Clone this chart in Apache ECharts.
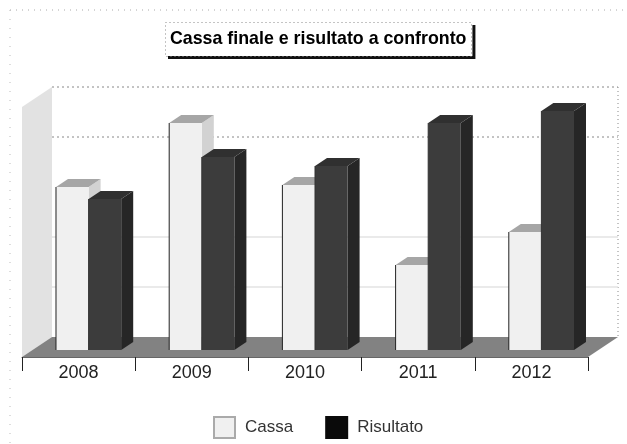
<!DOCTYPE html>
<html>
<head>
<meta charset="utf-8">
<style>
html, body { margin: 0; padding: 0; background: #fff; }
#chart { width: 627px; height: 444px; }
</style>
</head>
<body>
<div id="chart"></div>
<script src="https://cdn.jsdelivr.net/npm/echarts@6/dist/echarts.min.js"></script>
<script>
const years = ['2008', '2009', '2010', '2011', '2012']
const cassa = [163, 227, 165, 85, 118]
const risultato = [151, 193, 184, 227, 239]
const solidTicks = [50, 100]
const dottedTicks = [200, 250]

// finta prospettiva: spostamento in pixel del fondo e delle barre
const backX = 30
const backY = -20
const barX = 10
const barY = -7
const depthX = 12
const depthY = -8
const barShare = 0.288

function poly (points, fill) {
  return {
    type: 'polygon',
    shape: { points: points },
    style: { fill: fill, lineWidth: 0 }
  }
}

function renderBar (colors, side) {
  return function (params, api) {
    const top = api.coord([api.value(0), api.value(1)])
    const base = api.coord([api.value(0), 0])
    const w = api.size([1, 0])[0] * barShare
    const x0 = top[0] + barX + (side < 0 ? -w : 0)
    const x1 = x0 + w
    const y0 = top[1] + barY
    const y1 = base[1] + barY
    return {
      type: 'group',
      children: [
        poly([[x1, y0], [x1 + depthX, y0 + depthY], [x1 + depthX, y1 + depthY], [x1, y1]], colors.side),
        poly([[x0, y0], [x0 + depthX, y0 + depthY], [x1 + depthX, y0 + depthY], [x1, y0]], colors.top),
        poly([[x0, y0], [x1, y0], [x1, y1], [x0, y1]], colors.front),
        {
          type: 'line',
          shape: { x1: x0, y1: y0, x2: x0, y2: y1 },
          style: { stroke: colors.edge, lineWidth: 1 }
        }
      ]
    }
  }
}

function renderRoom (params, api) {
  const box = params.coordSys
  const left = box.x
  const right = box.x + box.width
  const top = box.y
  const bottom = box.y + box.height
  return {
    type: 'group',
    children: [
      poly([[left, top], [left + backX, top + backY], [left + backX, bottom + backY], [left, bottom]], '#e2e2e2'),
      poly([[left, bottom], [left + backX, bottom + backY], [right + backX, bottom + backY], [right, bottom]], '#828282'),
      {
        type: 'line',
        shape: { x1: right + backX, y1: top + backY, x2: right + backX, y2: bottom + backY },
        style: { stroke: '#888', lineWidth: 1, lineDash: [1, 3] }
      }
    ]
  }
}

function renderTick (params, api) {
  const box = params.coordSys
  const y = api.coord([0, api.value(1)])[1] + backY
  const dotted = api.value(2) === 1
  return {
    type: 'line',
    shape: { x1: box.x + backX, y1: y, x2: box.x + box.width + backX, y2: y },
    style: dotted
      ? { stroke: '#888', lineWidth: 1, lineDash: [2, 3] }
      : { stroke: '#e3e3e3', lineWidth: 1.5 }
  }
}

const myChart = echarts.init(document.getElementById('chart'))
const option = {
  animation: false,
  backgroundColor: '#fff',
  textStyle: { fontFamily: 'Liberation Sans' },
  title: {
    text: 'Cassa finale e risultato a confronto',
    left: 165,
    top: 22,
    padding: [8, 6, 8, 5],
    backgroundColor: '#fff',
    shadowColor: '#111',
    shadowBlur: 0,
    shadowOffsetX: 3,
    shadowOffsetY: 3,
    textStyle: { fontFamily: 'Liberation Sans', fontSize: 17.8, fontWeight: 'bold', color: '#000' }
  },
  legend: {
    data: [
      { name: 'Cassa', icon: 'rect' },
      { name: 'Risultato', icon: 'rect' }
    ],
    left: 213,
    top: 416,
    padding: 0,
    itemWidth: 21,
    itemHeight: 21,
    itemGap: 32,
    textStyle: { fontSize: 17, color: '#333', padding: [0, 0, 0, 5] }
  },
  grid: { left: 22, right: 39, top: 107, bottom: 87 },
  xAxis: {
    type: 'category',
    data: years,
    axisLine: { show: true, lineStyle: { color: '#666', width: 1 } },
    axisTick: { show: true, length: 14, lineStyle: { color: '#222', width: 1 } },
    axisLabel: { margin: 7, fontSize: 18, color: '#222' }
  },
  yAxis: {
    type: 'value',
    min: 0,
    max: 250,
    interval: 50,
    show: false,
    splitLine: { show: false }
  },
  // cornice a puntini della scansione
  graphic: [
    {
      type: 'line',
      silent: true,
      shape: { x1: 10, y1: 10, x2: 627, y2: 10 },
      style: { stroke: '#aaa', lineWidth: 1, lineDash: [1, 5] }
    },
    {
      type: 'line',
      silent: true,
      shape: { x1: 10, y1: 10, x2: 10, y2: 444 },
      style: { stroke: '#bbb', lineWidth: 1, lineDash: [1, 8] }
    },
    {
      type: 'rect',
      silent: true,
      z: 10,
      shape: { x: 165.5, y: 22.5, width: 306, height: 34 },
      style: { fill: 'none', stroke: '#888', lineWidth: 1, lineDash: [1, 3] }
    }
  ],
  series: [
    {
      name: 'stanza',
      type: 'custom',
      silent: true,
      clip: false,
      renderItem: renderRoom,
      data: [[0, 0]]
    },
    {
      name: 'griglia',
      type: 'custom',
      silent: true,
      clip: false,
      renderItem: renderTick,
      data: solidTicks.map(v => [0, v, 0]).concat(dottedTicks.map(v => [0, v, 1]))
    },
    {
      name: 'Cassa',
      type: 'custom',
      clip: false,
      itemStyle: { color: '#f0f0f0', borderColor: '#aaa', borderWidth: 1 },
      renderItem: renderBar({ front: '#f0f0f0', side: '#d2d2d2', top: '#a6a6a6', edge: '#222' }, -1),
      data: cassa.map((v, i) => [i, v])
    },
    {
      name: 'Risultato',
      type: 'custom',
      clip: false,
      itemStyle: { color: '#0a0a0a', borderColor: '#0a0a0a', borderWidth: 1 },
      renderItem: renderBar({ front: '#3c3c3c', side: '#262626', top: '#303030', edge: '#333' }, 1),
      data: risultato.map((v, i) => [i, v])
    }
  ]
}
myChart.setOption(option)
</script>
</body>
</html>
